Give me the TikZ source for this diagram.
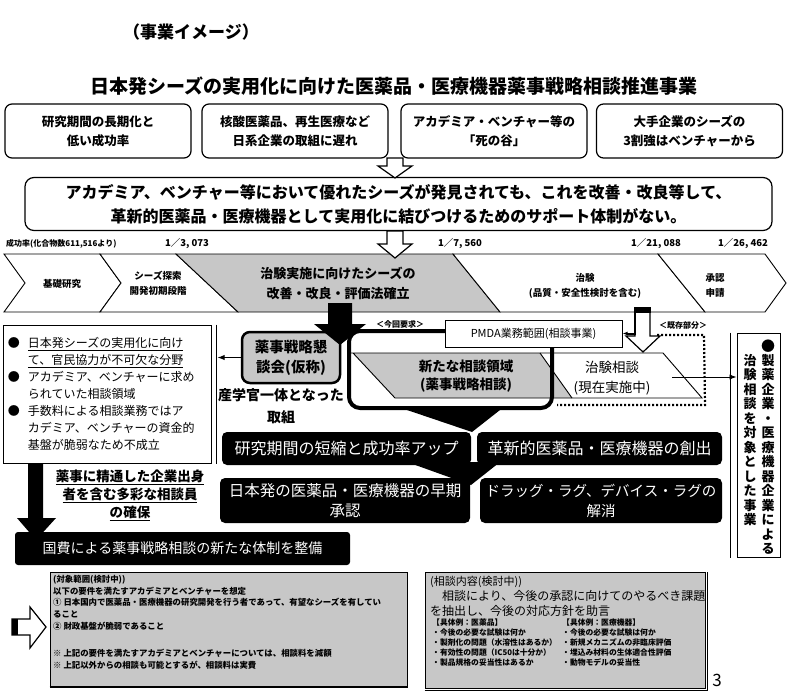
\documentclass[tikz,border=0pt]{standalone}
\usepackage{fontspec}
\setmainfont{Noto Sans CJK JP}
\usetikzlibrary{arrows.meta}

\newcommand\fsz[2]{\fontsize{#1}{#2}\selectfont}

\tikzset{
  topbox/.style={draw, line width=1.2pt, rounded corners=7pt, minimum width=186pt, minimum height=54pt, align=center, inner sep=0pt, font=\fsz{12.5}{19}\bfseries},
  mainbox/.style={draw, line width=1.2pt, rounded corners=9pt, align=center, inner sep=0pt, font=\fsz{16}{24}\bfseries},
  hollow/.style={draw, fill=white, line width=1.2pt},
  seg/.style={draw, line width=0.9pt, fill=white},
  shade/.style={fill=black!22},
  segtext/.style={font=\fsz{9.5}{15}\bfseries, align=center, inner sep=0pt},
  rate/.style={font=\fsz{9.5}{11}\bfseries, inner sep=0pt},
  blackbox/.style={fill=black, rounded corners=5pt, text=white, align=center, inner sep=0pt},
  note/.style={align=left, inner sep=0pt, anchor=north west}
}

\begin{document}
\begin{tikzpicture}[x=1pt,y=-1pt]
\useasboundingbox (0,0) rectangle (787,698);

% heading
\node[font=\fsz{17}{20}\bfseries] (kind) at (191,32) {（事業イメージ）};
\node[font=\fsz{19}{22}\bfseries] (title) at (394,86) {日本発シーズの実用化に向けた医薬品・医療機器薬事戦略相談推進事業};

% problems
\node[topbox] (iss1) at (98,131) {研究期間の長期化と\\低い成功率};
\node[topbox] (iss2) at (295,131) {核酸医薬品、再生医療など\\日系企業の取組に遅れ};
\node[topbox] (iss3) at (494,131) {アカデミア・ベンチャー等の\\「死の谷」};
\node[topbox] (iss4) at (689.5,131) {大手企業のシーズの\\3割強はベンチャーから};

\node[mainbox, minimum width=747pt, minimum height=53pt] (gap) at (398.5,204)
  {アカデミア、ベンチャー等において優れたシーズが発見されても、これを改善・改良等して、\\革新的医薬品・医療機器として実用化に結びつけるためのサポート体制がない。};

\draw[hollow] (387,158) -- (403,158) -- (403,166) -- (412,166) -- (395,178) -- (378,166) -- (387,166) -- cycle;

% success rates
\node[rate, font=\fsz{8}{10}\bfseries, anchor=west] (rate0) at (6,244) {成功率(化合物数611,516より)};
\node[rate] (rate1) at (187,244) {1／3, 073};
\node[rate] (rate2) at (460,244) {1／7, 560};
\node[rate] (rate3) at (656,244) {1／21, 088};
\node[rate] (rate4) at (743,244) {1／26, 462};

% process band
\draw[seg] (4,254) -- (100,254) -- (121,283) -- (100,312) -- (4,312) -- (25,283) -- cycle;
\draw[seg] (100,254) -- (176,254) -- (238,312) -- (100,312) -- (121,283) -- cycle;
\draw[seg, shade] (176,254) -- (453,254) -- (500,312) -- (238,312) -- cycle;
\draw[seg] (453,254) -- (658,254) -- (705,312) -- (500,312) -- cycle;
\draw[seg] (658,254) -- (765,254) -- (786,283) -- (765,312) -- (705,312) -- cycle;
\node[segtext] (basic) at (62,284) {基礎研究};
\node[segtext] (search) at (158,283) {シーズ探索\\開発初期段階};
\node[segtext, font=\fsz{13}{20}\bfseries] (improve) at (338,283) {治験実施に向けたシーズの\\改善・改良・評価法確立};
\node[segtext] (trial) at (585,285.5) {治験\\(品質・安全性検討を含む)};
\node[segtext] (apply) at (715,285.5) {承認\\申請};

\draw[hollow] (387,231) -- (403,231) -- (403,244) -- (412,244) -- (395,258) -- (378,244) -- (387,244) -- cycle;

% council and new scope
\node[draw, line width=2.5pt, rounded corners=8pt, shade, minimum width=98pt, minimum height=51pt, align=center, inner sep=0pt,
  font=\fsz{14.5}{20}\bfseries] (council) at (291,357.5) {薬事戦略懇\\談会(仮称)};
\fill (328,303) -- (352,303) -- (352,324) -- (366,324) -- (340,345) -- (314,324) -- (328,324) -- cycle;
\node[font=\fsz{14}{22}\bfseries, align=center, inner sep=0pt] (joint) at (281,406) {産学官一体となった\\取組};

\fill[shade] (353,353) -- (540,353) -- (572,398) -- (395,398) -- cycle;
\draw[line width=0.9pt] (349,353) -- (663,353) -- (702,398) -- (395,398) -- (353,353);
\draw[line width=0.9pt] (540,353) -- (572,398);
\node[draw, line width=4pt, rounded corners=11pt, minimum width=203pt, minimum height=77pt] (newscope) at (450.5,369.5) {};
\node[draw, fill=white, line width=1pt, minimum width=177pt, minimum height=27pt, font=\fsz{11}{13}] (pmda) at (533.5,333.5) {PMDA業務範囲(相談事業)};
\node[font=\fsz{8}{10}\bfseries, inner sep=0pt] (req) at (400,324) {＜今回要求＞};
\node[font=\fsz{8}{10}\bfseries, inner sep=0pt] (exist) at (683,325) {＜既存部分＞};
\node[font=\fsz{13.5}{18}\bfseries, align=center, inner sep=0pt] (newarea) at (466,376) {新たな相談領域\\(薬事戦略相談)};
\node[font=\fsz{13.5}{20}, align=center, inner sep=0pt] (current) at (612,378) {治験相談\\(現在実施中)};

\draw[line width=2.2pt, dash pattern=on 2pt off 2pt] (657,335) -- (704,335) -- (705,405) -- (557,405);
\draw[hollow] (635,312) -- (650,312) -- (650,336) -- (660,336) -- (643,352) -- (626,336) -- (635,336) -- cycle;
\fill (634,307) rectangle (651,313);
\draw[line width=2pt, -{Latex[length=5pt]}] (635,312) |- (pmda.east);

% industry consultation
\node[draw, line width=1pt, minimum width=43pt, minimum height=224pt] (industry) at (758.5,445) {};
\draw[line width=1pt] ([xshift=-6pt]industry.north west) -- ([xshift=-6pt]industry.south west);
\node[font=\fsz{14}{14}, inner sep=0pt] (dot) at (768,346) {●};
\node[font=\fsz{13}{14.5}\bfseries, align=center, inner sep=0pt, anchor=north] (ind1) at (768,354)
  {製\\薬\\企\\業\\・\\医\\療\\機\\器\\企\\業\\に\\よ\\る};
\node[font=\fsz{13}{14.5}\bfseries, align=center, inner sep=0pt, anchor=north] (ind2) at (750,354)
  {治\\験\\相\\談\\を\\対\\象\\と\\し\\た\\事\\業};
\draw[line width=0.8pt, -{Latex[length=7pt]}] (672,377) -- (672,377 -| industry.west);

% needs
\node[draw, line width=1pt, minimum width=208pt, minimum height=138pt, text width=198pt, align=left, inner sep=0pt,
  font=\fsz{12}{17}] (needs) at (107,394)
  {\makebox[20pt][l]{●}\underline{日本発シーズの実用化に向け}\\
   \hspace*{20pt}\underline{て、官民協力が不可欠な分野}\\
   \makebox[20pt][l]{●}アカデミア、ベンチャーに求め\\
   \hspace*{20pt}られていた相談領域\\
   \makebox[20pt][l]{●}手数料による相談業務ではア\\
   \hspace*{20pt}カデミア、ベンチャーの資金的\\
   \hspace*{20pt}基盤が脆弱なため不成立};
\draw[line width=1pt] ([xshift=5pt]needs.north east) -- ([xshift=5pt]needs.south east);
\draw[line width=1pt, -{Latex[length=7pt]}] (council.west) -- ([xshift=6pt]council.west -| needs.east);

% outcomes
\node[blackbox, minimum width=249pt, minimum height=33pt, font=\fsz{16}{20}] (shorten) at (346.5,448.5) {研究期間の短縮と成功率アップ};
\node[blackbox, minimum width=245pt, minimum height=33pt, font=\fsz{16}{20}] (create) at (599.5,448.5) {革新的医薬品・医療機器の創出};
\node[blackbox, minimum width=250pt, minimum height=45pt, font=\fsz{15.5}{20}] (early) at (345,500.5) {日本発の医薬品・医療機器の早期\\承認};
\node[blackbox, minimum width=242pt, minimum height=45pt, font=\fsz{14.5}{20}] (lag) at (601,500.5) {ドラッグ・ラグ、デバイス・ラグの\\解消};
\fill (407,410) -- (500,410) -- (472,432) -- cycle;
\fill (407,462) -- (500,462) -- (471,485) -- cycle;

% staff and national budget
\fill (28,463) -- (43,463) -- (43,518) -- (56,518) -- (36,540) -- (17,518) -- (28,518) -- cycle;
\node[font=\fsz{13.5}{18}\bfseries, align=center, inner sep=0pt] (staff) at (130,495)
  {\underline{薬事に精通した企業出身}\\\underline{者を含む多彩な相談員}\\\underline{の確保}};
\node[blackbox, rounded corners=3pt, minimum width=335pt, minimum height=33pt, font=\fsz{14}{18}] (budget) at (182.5,548.5) {国費による薬事戦略相談の新たな体制を整備};

% target scope
\node[draw, line width=1pt, shade, minimum width=357pt, minimum height=115pt] (scope) at (228.5,629.5) {};
\draw[line width=2pt] ([yshift=1pt]scope.south west) -- ([yshift=1pt]scope.south east);
\node[note, font=\fsz{8.4}{11.7}\bfseries] (scopetext) at (53,575)
  {(対象範囲(検討中))\\
   以下の要件を満たすアカデミアとベンチャーを想定\\
   ①\ 日本国内で医薬品・医療機器の研究開発を行う者であって、有望なシーズを有してい\\
   ること\\
   ②\ 財政基盤が脆弱であること\\[16pt]
   ※\ 上記の要件を満たすアカデミアとベンチャーについては、相談料を減額\\
   ※\ 上記以外からの相談も可能とするが、相談料は実費};
\draw[hollow] (12,619) -- (30,619) -- (30,607) -- (46,627) -- (30,648) -- (30,635) -- (12,635) -- cycle;
\fill (12,619) rectangle (18,635);

% consultation content
\node[draw, line width=1pt, shade, minimum width=280pt, minimum height=116pt] (content) at (565,630) {};
\draw[line width=1.5pt] ([yshift=-2pt]content.south west) -- ([xshift=2pt,yshift=-2pt]content.south east) -- ([xshift=2pt]content.north east);
\node[note, font=\fsz{11}{14}] (contenthead) at (430,576) {(相談内容(検討中))};
\node[note, font=\fsz{12}{15}] (contenttext) at (430,590) {\hspace*{12pt}相談により、今後の承認に向けてのやるべき課題\\を抽出し、今後の対応方針を助言};
\node[note, font=\fsz{7.8}{10}\bfseries] (drug) at (432,619)
  {【具体例：医薬品】\\・今後の必要な試験は何か\\・製剤化の問題（水溶性はあるか）\\・有効性の問題（IC50は十分か）\\・製品規格の妥当性はあるか};
\node[note, font=\fsz{7.8}{10}\bfseries] (device) at (562,619)
  {【具体例：医療機器】\\・今後の必要な試験は何か\\・新規メカニズムの非臨床評価\\・埋込み材料の生体適合性評価\\・動物モデルの妥当性};
\node[font=\fsz{17}{20}] (page) at (717,680) {3};
\end{tikzpicture}
\end{document}
